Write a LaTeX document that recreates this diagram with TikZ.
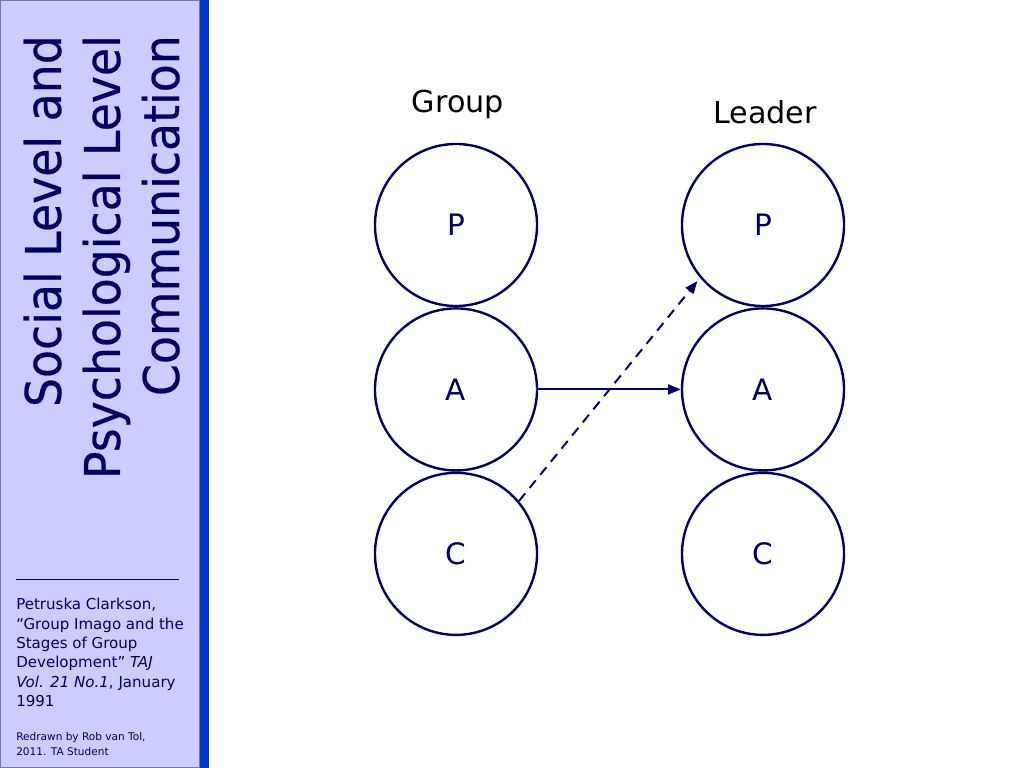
\documentclass[tikz,border=0pt]{standalone}
\usepackage{fontspec}
\usepackage{xcolor}
\usepackage{tikz}
\usetikzlibrary{positioning}
\usetikzlibrary{arrows.meta}
\setmainfont{DejaVu Sans}
\newfontfamily\titlefont{DejaVu Sans}[FakeStretch=0.93,FakeBold=0.4]
\definecolor{navy}{HTML}{000066}
\definecolor{lavender}{HTML}{CCCCFF}
\definecolor{stripe}{HTML}{0033CC}
\definecolor{frame}{HTML}{7777AA}

\begin{document}
\begin{tikzpicture}[x=0.025cm,y=-0.025cm,node distance=0pt,
    ego/.style={circle,draw=navy,line width=1.7pt,minimum size=4.05cm,inner sep=0pt,
                text=navy,font=\fontsize{21}{25}\selectfont},
    head/.style={font=\fontsize{21.5}{26}\selectfont},
    link/.style={draw=navy,line width=1.4pt,-{Triangle[length=9pt,width=7pt]}}]
   \useasboundingbox (0,0) rectangle (1024,768);
   % side bar
   \fill[lavender,draw=frame,line width=0.8pt] (0.5,0.5) rectangle (200,767.5);
   \fill[stripe] (200,0) rectangle (209,768);
   \node (title) [rotate=90,anchor=south east,align=right,inner sep=0pt,text=navy,
        font=\titlefont\fontsize{35}{42}\selectfont] at (180,35)
        {Social Level and\\Psychological Level\\Communication};
   \draw[navy,line width=0.7pt] (16,579) -- (179,579);
   \node (source) [anchor=north west,align=left,inner sep=0pt,text=navy,
        font=\fontsize{10.7}{13.8}\selectfont] at (16,598)
        {Petruska Clarkson,\\``Group Imago and the\\Stages of Group\\Development'' \textit{TAJ}\\\textit{Vol. 21 No.1}, January\\1991};
   \node (credit) [anchor=north west,align=left,inner sep=0pt,text=navy,
        font=\fontsize{7.5}{10.5}\selectfont] at (16,732)
        {Redrawn by Rob van Tol,\\2011. TA Student};
   % ego states
   \node (gP) [ego] at (456,225) {P};
   \node (gA) [ego,below=of gP] {A};
   \node (gC) [ego,below=of gA] {C};
   \node (lP) [ego] at (763,225) {P};
   \node (lA) [ego,below=of lP] {A};
   \node (lC) [ego,below=of lA] {C};
   \node (group)  [head] at (458,104) {Group};
   \node (leader) [head] at (765,112) {Leader};
   % transactions
   \draw[link] (gA.east) -- (lA.west);
   \draw[link,dash pattern=on 7pt off 5pt,shorten >=3pt] (gC.40) -- (lP.220);
\end{tikzpicture}
\end{document}
